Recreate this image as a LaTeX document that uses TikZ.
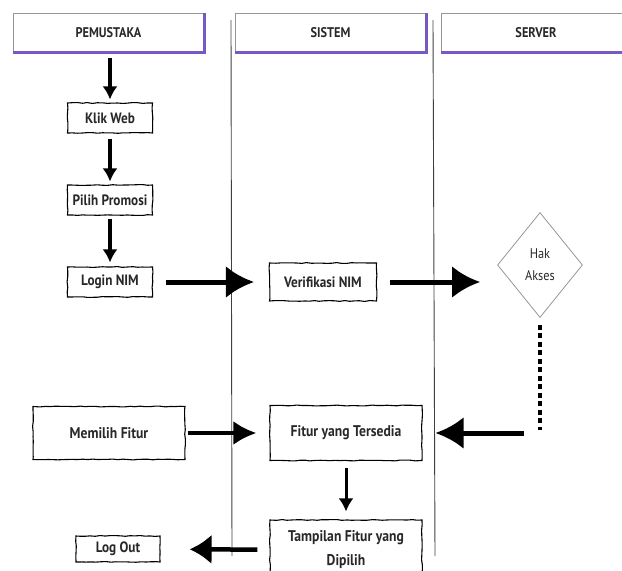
\documentclass[tikz,border=0pt]{standalone}
\usepackage{fontspec}
\setmainfont{PT Sans}[FakeStretch=0.88]
\usetikzlibrary{arrows.meta,shapes.geometric,decorations.pathmorphing}

\definecolor{ungu}{RGB}{120,88,196}
\definecolor{abu}{RGB}{150,150,150}
\definecolor{teks}{RGB}{40,40,40}

\tikzset{
    judul/.style={draw=abu, line width=0.6pt, fill=white, inner sep=0pt,
        minimum height=39pt, text=teks, font=\bfseries\fontsize{14}{16}\selectfont},
    kotak/.style={draw, line width=1.1pt, fill=white, inner sep=0pt, align=center,
        text=teks, font=\bfseries\fontsize{15.5}{24}\selectfont,
        decorate, decoration={random steps, segment length=5pt, amplitude=0.45pt}},
    kecil/.style={kotak, font=\bfseries\fontsize{15}{17}\selectfont},
    panah/.style={-{Latex[length=13pt,width=15pt]}, line width=3.5pt},
    panahbesar/.style={-{Latex[length=28pt,width=32pt]}, line width=5pt},
    garis/.style={line width=0.9pt, black!75}
}

\begin{document}
\begin{tikzpicture}[x=1pt,y=-1pt]
    \pgfmathsetseed{7}
    \useasboundingbox (0,0) rectangle (622,571);
    \clip (0,0) rectangle (622,571);

    % lajur
    \coordinate (lajur1a) at (231,20);
    \coordinate (lajur1b) at (232,556);
    \coordinate (lajur2a) at (433,20);
    \coordinate (lajur2b) at (435,556);
    \draw[garis] (lajur1a) -- (lajur1b);
    \draw[garis] (lajur2a) -- (lajur2b);

    \node[judul, minimum width=191pt] (pemustaka) at (108.5,32.5) {PEMUSTAKA};
    \node[judul, minimum width=191pt] (sistem) at (330.5,32.5) {SISTEM};
    \node[judul, minimum width=190pt] (server) at (536,32.5) {SERVER};
    \draw[ungu, line width=2.4pt] (pemustaka.south west) -- (pemustaka.south east) -- (pemustaka.north east);
    \draw[ungu, line width=2.4pt] (sistem.south west) -- (sistem.south east) -- (sistem.north east);
    \draw[ungu, line width=2.4pt] (server.south west) -- (server.south east);

    \node[kecil, minimum width=85pt, minimum height=30pt] (klik) at (110,118) {Klik Web};
    \node[kecil, minimum width=85pt, minimum height=30pt] (promosi) at (110,200) {Pilih Promosi};
    \node[kecil, minimum width=85pt, minimum height=30pt] (login) at (110,282) {Login NIM};
    \node[kecil, minimum width=107pt, minimum height=38pt] (verifikasi) at (323,282) {Verifikasi NIM};
    \node[diamond, draw=abu, line width=0.8pt, minimum width=85pt, minimum height=105pt,
        inner sep=0pt, align=center, text=teks, font=\fontsize{14}{22}\selectfont] (hak) at (540,265) {Hak\\Akses};
    \node[kotak, minimum width=152pt, minimum height=53pt] (memilih) at (109,433) {Memilih Fitur};
    \node[kotak, minimum width=152pt, minimum height=55pt] (fitur) at (346,433) {Fitur yang Tersedia};
    \node[kotak, minimum width=152pt, minimum height=60pt] (tampilan) at (346,550) {Tampilan Fitur yang\\Dipilih};
    \node[kecil, minimum width=84pt, minimum height=26pt] (logout) at (118,549) {Log Out};

    \coordinate (hakbawah) at (540,430);
    \coordinate (balik) at (524,433);

    \draw[panah, shorten <=6pt, shorten >=3pt] (pemustaka.south -| klik.north) -- (klik.north);
    \draw[panah, shorten <=5pt, shorten >=3pt] (klik) -- (promosi);
    \draw[panah, shorten <=3pt, shorten >=4pt] (promosi) -- (login);
    \draw[panahbesar, shorten <=13pt, shorten >=15pt] (login) -- (verifikasi);
    \draw[panahbesar, shorten <=13pt, shorten >=17pt] (verifikasi) -- (verifikasi -| hak.west);
    \draw[line width=3.5pt, dash pattern=on 5pt off 3.5pt, shorten <=7pt] (hak.south) -- (hakbawah);
    \draw[panahbesar, shorten >=13pt] (balik) -- (fitur.east);
    \draw[-{Latex[length=23pt,width=24pt]}, line width=4pt, shorten <=2pt, shorten >=13pt] (memilih) -- (fitur);
    \draw[-{Latex[length=13pt,width=15pt]}, line width=3pt, shorten <=7pt, shorten >=8pt] (fitur) -- (tampilan);
    \draw[-{Latex[length=22pt,width=30pt]}, line width=4.5pt, shorten <=12pt, shorten >=29pt] (tampilan) -- (logout);
\end{tikzpicture}
\end{document}
